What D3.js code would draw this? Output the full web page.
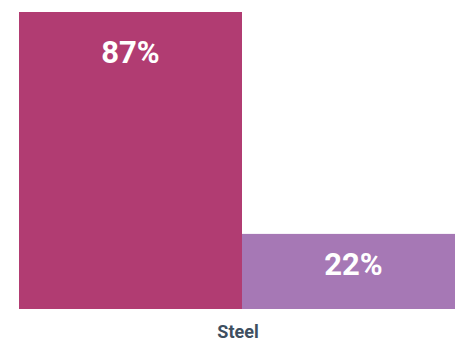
<!DOCTYPE html>
<html>
<head>
<meta charset="utf-8">
<script src="https://cdn.jsdelivr.net/npm/d3@7"></script>
<style>
  body { margin: 0; background: #fff; }
  svg { display: block; font-family: Roboto, "Noto Sans", sans-serif; }
</style>
</head>
<body>
<script>
// data
const categories = ["Steel"];
const seriesNames = ["A", "B"];
const seriesA = [87];
const seriesB = [22];
const colors = ["#b13c72", "#a678b5"];

const width = 455, height = 343;
// plot runs a little past the right edge, so the second bar is clipped
const margin = { top: 12, right: -10, bottom: 34, left: 19 };

const svg = d3.select("body")
    .append("svg")
    .attr("width", width)
    .attr("height", height);

const x = d3.scaleBand()
    .domain(categories)
    .range([margin.left, width - margin.right]);

const xInner = d3.scaleBand()
    .domain(seriesNames)
    .range([0, x.bandwidth()]);

const y = d3.scaleLinear()
    .domain([0, d3.max(seriesA.concat(seriesB))])
    .range([height - margin.bottom, margin.top]);

const rows = [];
categories.forEach((c, i) => {
    rows.push({ cat: c, s: "A", v: seriesA[i], color: colors[0] });
    rows.push({ cat: c, s: "B", v: seriesB[i], color: colors[1] });
});

const bar = svg.selectAll(".bar")
    .data(rows)
    .enter()
    .append("g")
    .attr("class", "bar");

bar.append("rect")
    .attr("x", d => x(d.cat) + xInner(d.s))
    .attr("y", d => y(d.v))
    .attr("width", xInner.bandwidth())
    .attr("height", d => y(0) - y(d.v))
    .attr("fill", d => d.color);

bar.append("text")
    .attr("x", d => x(d.cat) + xInner(d.s) + xInner.bandwidth() / 2)
    .attr("y", d => y(d.v) + Math.min(51, (y(0) - y(d.v)) * 0.55))
    .attr("text-anchor", "middle")
    .attr("fill", "#fff")
    .attr("font-weight", "bold")
    .attr("font-size", 31)
    .text(d => d.v + "%");

// category axis, labels only
const xAxis = svg.append("g")
    .attr("transform", `translate(-4,${height - margin.bottom})`)
    .call(d3.axisBottom(x).tickSize(0).tickPadding(16));

xAxis.select(".domain").remove();
xAxis.selectAll("text")
    .attr("fill", "#3e4f5f")
    .attr("font-family", "Roboto, sans-serif")
    .attr("font-weight", "bold")
    .attr("font-size", 18);
</script>
</body>
</html>
